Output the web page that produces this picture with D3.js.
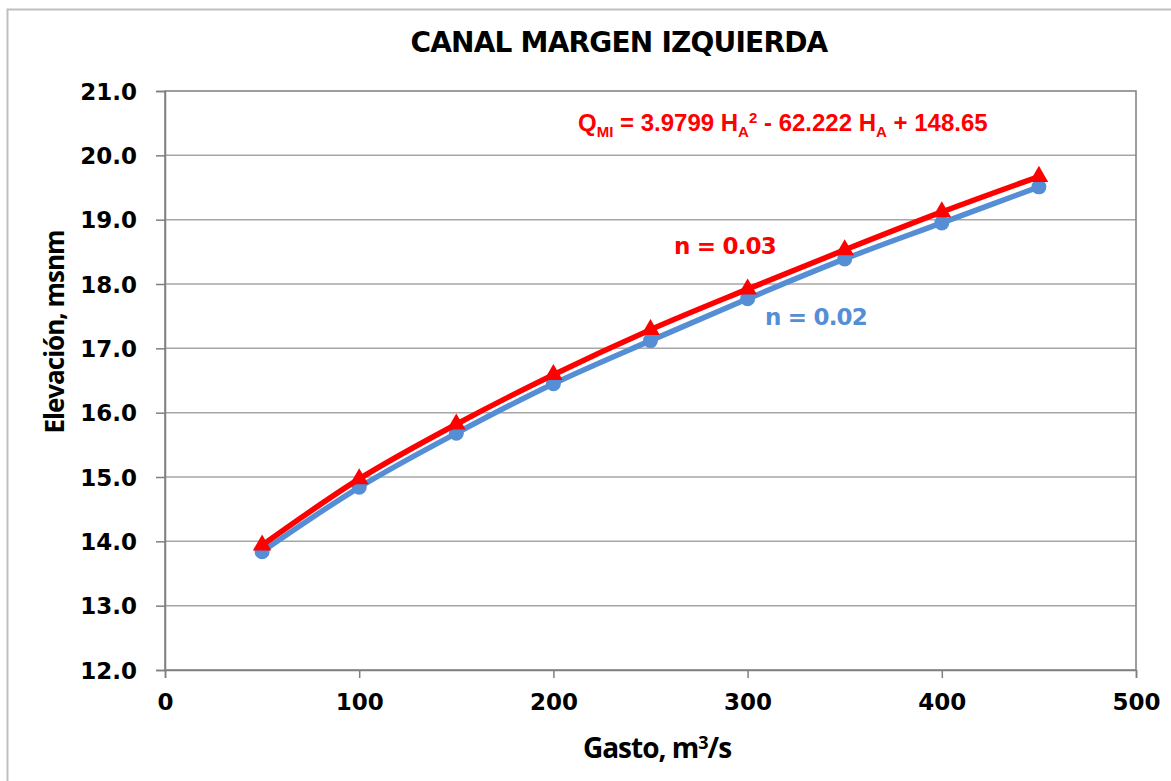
<!DOCTYPE html>
<html>
<head>
<meta charset="utf-8">
<script src="https://cdn.jsdelivr.net/npm/d3@7"></script>
<style>
  body { margin: 0; background: #fff; }
  svg { display: block; }
</style>
</head>
<body>
<svg id="chart" width="1171" height="781"></svg>
<script>
const gasto   = [50, 100, 150, 200, 250, 300, 350, 400, 450];
const elevN02 = [13.84, 14.84, 15.68, 16.45, 17.12, 17.77, 18.39, 18.95, 19.51];
const elevN03 = [13.94, 14.97, 15.82, 16.59, 17.29, 17.92, 18.53, 19.12, 19.67];
const xTicks  = [0, 100, 200, 300, 400, 500];
const yTicks  = [12, 13, 14, 15, 16, 17, 18, 19, 20, 21];

const svg = d3.select("#chart");
const margin = { top: 91, right: 35, bottom: 111, left: 165 };
const W = 1171 - margin.left - margin.right;
const H = 781 - margin.top - margin.bottom;

// outer chart border
svg.append("rect").attr("x", 7.5).attr("y", 9.5).attr("width", 1180).attr("height", 800)
   .attr("fill", "none").attr("stroke", "#bfbfbf").attr("stroke-width", 2);

const g = svg.append("g").attr("transform", `translate(${margin.left},${margin.top})`);

const x = d3.scaleLinear().domain([0, 500]).range([0, W]);
const y = d3.scaleLinear().domain([12, 21]).range([H, 0]);

// gridlines
g.selectAll("line.grid").data(yTicks.slice(1, -1))
 .join("line").attr("class", "grid")
   .attr("x1", 0).attr("x2", W)
   .attr("y1", d => y(d)).attr("y2", d => y(d))
   .attr("stroke", "#a6a6a6").attr("stroke-width", 1.5);

g.append("rect").attr("width", W).attr("height", H)
 .attr("fill", "none").attr("stroke", "#7f7f7f").attr("stroke-width", 1.5);

const xAxis = g.append("g").attr("transform", `translate(0,${H})`)
  .call(d3.axisBottom(x).tickValues(xTicks).tickSize(8).tickPadding(16).tickFormat(d3.format("d")));
const yAxis = g.append("g")
  .call(d3.axisLeft(y).tickValues(yTicks).tickSize(9).tickPadding(19).tickFormat(d3.format(".1f")));

[xAxis, yAxis].forEach(a => {
  a.select(".domain").attr("stroke", "#7f7f7f").attr("stroke-width", 1.5);
  a.selectAll(".tick line").attr("stroke", "#7f7f7f").attr("stroke-width", 1.5);
  a.selectAll("text").attr("fill", "#000")
   .style("font-family", "'DejaVu Sans', Verdana, sans-serif")
   .style("font-weight", "bold").style("font-size", "23px");
});
yAxis.selectAll("text").attr("dy", "0.35em");

const line = d3.line().x(d => x(d[0])).y(d => y(d[1])).curve(d3.curveMonotoneX);

const s02 = gasto.map((q, i) => [q, elevN02[i]]);
const s03 = gasto.map((q, i) => [q, elevN03[i]]);

g.append("path").datum(s02).attr("d", line)
 .attr("fill", "none").attr("stroke", "#558ed5").attr("stroke-width", 5.5);
g.selectAll("circle.n02").data(s02).join("circle").attr("class", "n02")
 .attr("cx", d => x(d[0])).attr("cy", d => y(d[1])).attr("r", 7.5)
 .attr("fill", "#558ed5");

g.append("path").datum(s03).attr("d", line)
 .attr("fill", "none").attr("stroke", "#ff0000").attr("stroke-width", 5.5);
const tri = d3.symbol().type(d3.symbolTriangle).size(150);
g.selectAll("path.n03").data(s03).join("path").attr("class", "n03")
 .attr("transform", d => `translate(${x(d[0])},${y(d[1])})`)
 .attr("d", tri).attr("fill", "#ff0000");

// title
svg.append("text").attr("x", 619).attr("y", 52).attr("text-anchor", "middle")
   .style("font-family", "'DejaVu Sans', sans-serif").style("font-weight", "bold")
   .style("font-size", "28px").attr("letter-spacing", "-0.8").text("CANAL MARGEN IZQUIERDA");

// axis titles
svg.append("text").attr("x", 657).attr("y", 758).attr("text-anchor", "middle")
   .style("font-family", "'Open Sans', sans-serif").style("font-weight", "bold")
   .style("font-size", "28px").attr("letter-spacing", "-1")
   .html('Gasto, m<tspan dy="-9" font-size="18">3</tspan><tspan dy="9">/s</tspan>');

svg.append("text").attr("transform", "translate(64,332) rotate(-90)").attr("text-anchor", "middle")
   .style("font-family", "'Open Sans', sans-serif").style("font-weight", "bold")
   .style("font-size", "26px").attr("letter-spacing", "-1").text("Elevación, msnm");

// equation
const eq = svg.append("text").attr("x", 578).attr("y", 131)
   .style("font-family", "'Liberation Sans', Arial, sans-serif").style("font-weight", "bold")
   .style("font-size", "24px").attr("fill", "#ff0000");
eq.append("tspan").text("Q");
eq.append("tspan").attr("dy", 6).attr("font-size", 15).text("MI");
eq.append("tspan").attr("dy", -6).text(" = 3.9799 H");
eq.append("tspan").attr("dy", 6).attr("font-size", 15).text("A");
eq.append("tspan").attr("dy", -14).attr("font-size", 15).text("2");
eq.append("tspan").attr("dy", 8).text(" - 62.222 H");
eq.append("tspan").attr("dy", 6).attr("font-size", 15).text("A");
eq.append("tspan").attr("dy", -6).text(" + 148.65");

// series labels
svg.append("text").attr("x", 674).attr("y", 254)
   .style("font-family", "'DejaVu Sans', Verdana, sans-serif").style("font-weight", "bold")
   .style("font-size", "23px").attr("letter-spacing", "-0.8").attr("fill", "#ff0000").text("n = 0.03");
svg.append("text").attr("x", 765).attr("y", 325)
   .style("font-family", "'DejaVu Sans', Verdana, sans-serif").style("font-weight", "bold")
   .style("font-size", "23px").attr("letter-spacing", "-0.8").attr("fill", "#558ed5").text("n = 0.02");
</script>
</body>
</html>
